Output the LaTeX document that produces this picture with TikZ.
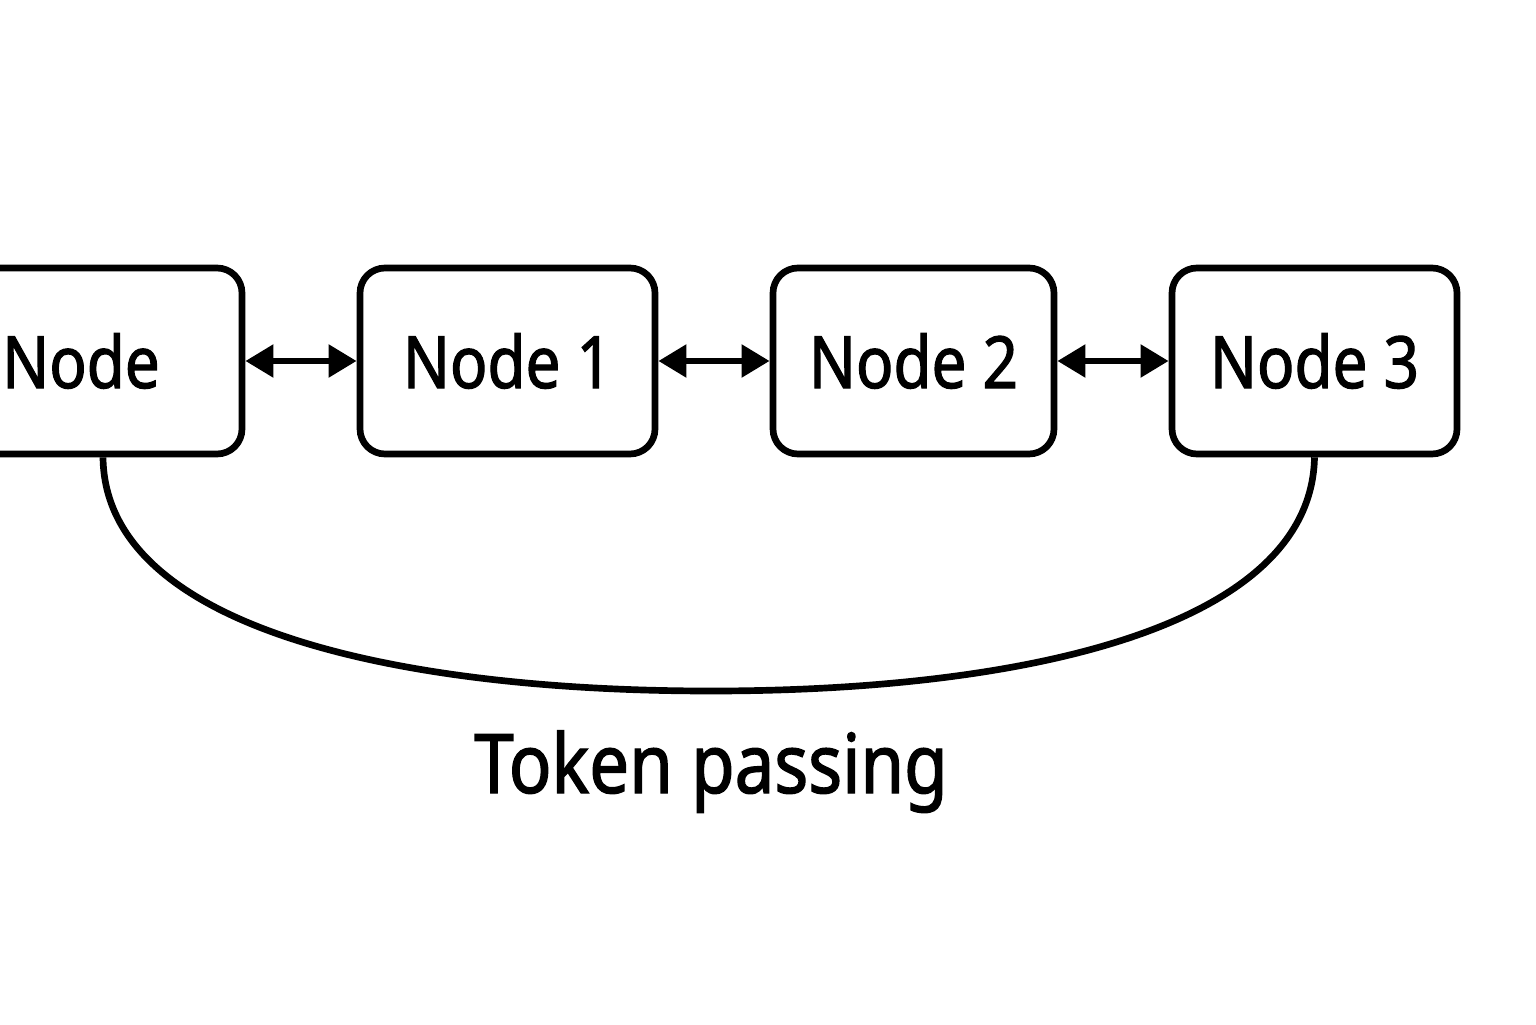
\documentclass[tikz,border=0pt]{standalone}
\usepackage{fontspec}
\setmainfont{Noto Sans}[FakeStretch=0.86,FakeBold=1.6]
\usetikzlibrary{arrows.meta}

\begin{document}
\begin{tikzpicture}[
    station/.style={draw, line width=1.9pt, rounded corners=0.25cm, minimum height=1.86cm,
        inner sep=0pt, font=\fontsize{20.5}{24}\selectfont},
    link/.style={line width=1.9pt, {Triangle[length=8pt,width=9pt]}-{Triangle[length=8pt,width=9pt]}}
]
        \useasboundingbox (0,0) rectangle (15.36,10.24);

        % 各ノード
        \node[station, minimum width=3.22cm] (n0) at (0.81,6.63) {Node};
        \node[station, minimum width=2.95cm] (n1) at (5.075,6.63) {Node 1};
        \node[station, minimum width=2.81cm] (n2) at (9.135,6.63) {Node 2};
        \node[station, minimum width=2.85cm] (n3) at (13.145,6.63) {Node 3};

        % 隣接ノード間の接続
        \draw[link] (n0.east) -- (n1.west);
        \draw[link] (n1.east) -- (n2.west);
        \draw[link] (n2.east) -- (n3.west);

        % トークンの経路
        \coordinate (t0) at ([xshift=2.2mm]n0.south);
        \draw[line width=1.9pt] (t0) .. controls (1.05,3.95) and (4.0,3.33) .. (7.11,3.33)
            .. controls (10.2,3.33) and (13.11,3.95) .. (n3.south);

        \node[anchor=base, font=\fontsize{23.4}{28}\selectfont] (label) at (7.11,2.31) {Token passing};
    \end{tikzpicture}
\end{document}
